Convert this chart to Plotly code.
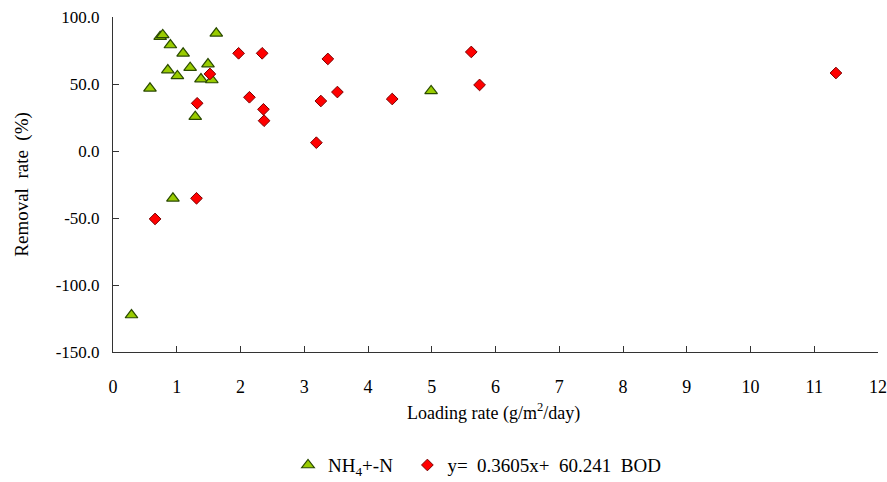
import plotly.graph_objects as go

# NH4+-N series (loading rate, removal rate)
nh4_x = [0.74, 0.78, 0.90, 1.10, 1.62, 0.86, 1.01, 1.21, 1.49, 1.38, 1.55, 0.58, 1.29, 0.94, 0.29, 4.99]
nh4_y = [85.3, 86.6, 79.1, 72.9, 87.8, 60.4, 56.0, 62.2, 64.9, 53.7, 53.0, 46.8, 25.6, -35.3, -122.4, 44.8]

# BOD series
bod_x = [1.97, 2.34, 3.37, 3.52, 3.26, 1.52, 1.32, 2.14, 2.36, 2.37, 3.19, 0.66, 1.31, 4.38, 5.62, 5.75, 11.34]
bod_y = [72.9, 72.9, 68.7, 44.0, 37.3, 57.5, 35.6, 40.1, 31.1, 22.6, 6.2, -50.7, -35.3, 38.8, 73.9, 49.3, 58.2]

y_tickvals = [100, 50, 0, -50, -100, -150]
y_ticktext = ["100.0", "50.0", "0.0", "-50.0", "-100.0", "-150.0"]
x_tickvals = list(range(0, 13))
x_ticktext = [str(v) for v in x_tickvals]

FONT = "Liberation Serif"

fig = go.Figure()
fig.add_trace(go.Scatter(
    x=nh4_x, y=nh4_y, mode="markers", name="NH<sub>4</sub>+-N\u00a0\u00a0",
    marker=dict(symbol="triangle-up", size=11, color="#99CC00",
                line=dict(color="#2A4A00", width=1.2)),
))
fig.add_trace(go.Scatter(
    x=bod_x, y=bod_y, mode="markers", name="y=\u00a0\u00a00.3605x+\u00a0\u00a060.241\u00a0\u00a0BOD",
    marker=dict(symbol="diamond", size=9, color="#FF0000",
                line=dict(color="#7A0000", width=1)),
))

fig.update_layout(
    width=887, height=482,
    margin=dict(l=113, r=9, t=17, b=130, autoexpand=False),
    paper_bgcolor="white", plot_bgcolor="white",
    font=dict(family=FONT, size=17, color="black"),
    showlegend=True,
    legend=dict(orientation="h", xref="container", yref="container",
                x=0.3247, y=0.035, xanchor="left", yanchor="middle",
                font=dict(family=FONT, size=19, color="black"),
                itemwidth=30, tracegroupgap=0),
    xaxis=dict(range=[0, 12], tickvals=x_tickvals, ticktext=x_ticktext,
               automargin=False,
               showgrid=False, zeroline=False, showline=True,
               linecolor="#333333", linewidth=1,
               ticks="inside", ticklen=6, tickcolor="#333333",
               ticklabelstandoff=18, tickfont=dict(family=FONT, size=18)),
    yaxis=dict(range=[-150, 100], tickvals=y_tickvals, ticktext=y_ticktext,
               automargin=False,
               showgrid=False, zeroline=False, showline=True,
               linecolor="#333333", linewidth=1,
               ticks="inside", ticklen=6, tickcolor="#333333",
               ticklabelstandoff=9, tickfont=dict(family=FONT, size=17)),
    annotations=[
        dict(text="Loading\u00a0rate\u00a0(g/m<sup>2</sup>/day)", xref="paper", yref="paper",
             x=0.497, y=-0.18, xanchor="center", yanchor="middle",
             showarrow=False, font=dict(family=FONT, size=18)),
        dict(text="Removal\u00a0\u00a0rate\u00a0\u00a0(%)", xref="paper", yref="paper",
             x=-0.12, y=0.5, xanchor="center", yanchor="middle", textangle=-90,
             showarrow=False, font=dict(family=FONT, size=19)),
    ],
)

fig.write_html("out.html")
